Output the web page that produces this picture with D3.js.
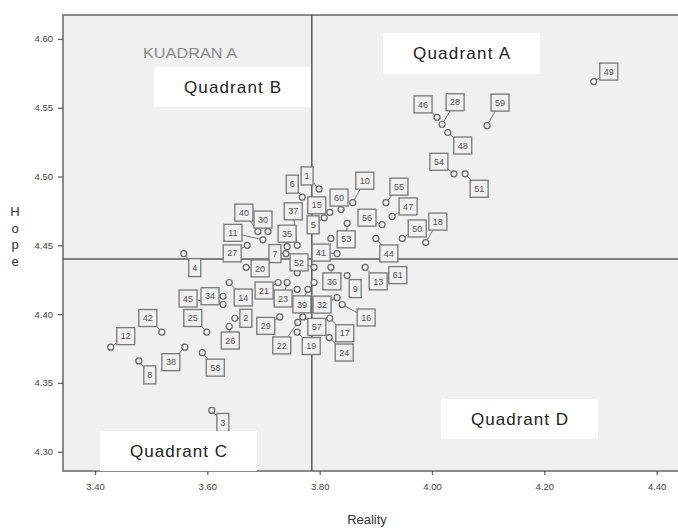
<!DOCTYPE html>
<html>
<head>
<meta charset="utf-8">
<script src="https://cdn.jsdelivr.net/npm/d3@7"></script>
<style>
  body { margin: 0; background: #fff; }
  text { font-family: "Liberation Sans", Arial, sans-serif; }
</style>
</head>
<body>
<div id="chart"></div>
<script>
// case labels ("" = point whose label is hidden in the picture)
const labels = ["49","46","28","48","59","54","51","1","15","60","5","10","53","","41","44","56","55","47","50","18",
  "6","40","30","11","27","35","37","7","4","20","14","34","45","2","26","25","42","12","8","38","58","3",
  "21","23","52","","","39","","29","57","22","19","36","9","13","61","32","16","17","24"];
const reality = [4.288,4.009,4.018,4.028,4.098,4.039,4.059,3.799,3.818,3.838,3.808,3.859,3.849,3.820,3.831,3.900,3.911,3.918,3.929,3.947,3.989,
  3.769,3.690,3.708,3.699,3.671,3.742,3.760,3.740,3.558,3.669,3.639,3.628,3.628,3.649,3.639,3.599,3.519,3.428,3.478,3.560,3.591,3.608,
  3.726,3.742,3.790,3.760,3.760,3.779,3.790,3.729,3.770,3.761,3.760,3.820,3.849,3.881,3.907,3.831,3.840,3.818,3.817];
const hope = [4.569,4.543,4.538,4.532,4.537,4.502,4.502,4.491,4.474,4.476,4.470,4.481,4.466,4.455,4.444,4.455,4.465,4.481,4.471,4.455,4.452,
  4.485,4.460,4.460,4.454,4.450,4.449,4.450,4.444,4.444,4.434,4.423,4.413,4.407,4.397,4.391,4.387,4.387,4.376,4.366,4.376,4.372,4.330,
  4.423,4.423,4.434,4.430,4.418,4.418,4.423,4.398,4.398,4.394,4.387,4.434,4.428,4.434,4.424,4.412,4.407,4.397,4.383];

// where each label box sits relative to its point (pixels)
const labelDx = [15,-14,13,15,13,-15,14,-12,-13,-2,-11,12,-1,0,-16,13,-15,13,16,15,12,
  -10,-14,-5,-30,-15,0,-4,-11,11,14,14,-13,-35,11,1,-14,-14,15,11,-14,13,11,
  -14,-4,-15,0,0,-6,0,-14,14,-16,14,1,8,13,18,-15,24,15,15];
const labelDy = [-10,-13,-22,13,-23,-12,15,-13,-7,-12,7,-22,16,0,-1,15,-7,-16,-10,-10,-21,
  -13,-19,-12,-7,8,-13,-34,0,14,1,15,0,-6,0,14,-14,-14,-11,14,15,15,12,
  8,16,-5,0,0,15,0,9,10,23,14,14,13,14,-6,7,13,15,15];

const xTicks = [3.40, 3.60, 3.80, 4.00, 4.20, 4.40];
const yTicks = [4.30, 4.35, 4.40, 4.45, 4.50, 4.55, 4.60];
const meanReality = 3.786;
const meanHope = 4.440;

const quadrantBoxes = [
  { text: "Quadrant A", x: 383, y: 33, w: 157, h: 41 },
  { text: "Quadrant B", x: 154, y: 67, w: 157, h: 40 },
  { text: "Quadrant C", x: 100, y: 431, w: 157, h: 40 },
  { text: "Quadrant D", x: 441, y: 399, w: 157, h: 40 }
];

const width = 678, height = 531;
const plot = { left: 63, top: 15, right: 678, bottom: 471 };

const svg = d3.select("#chart").append("svg")
  .attr("width", width)
  .attr("height", height);

const x = d3.scaleLinear().domain([3.343, 4.438]).range([plot.left, plot.right]);
const y = d3.scaleLinear().domain([4.286, 4.6174]).range([plot.bottom, plot.top]);

svg.append("rect")
  .attr("x", plot.left).attr("y", plot.top)
  .attr("width", plot.right - plot.left + 2).attr("height", plot.bottom - plot.top)
  .attr("fill", "#f0f0f0")
  .attr("stroke", "#7e7e7e")
  .attr("stroke-width", 1.8);

// axes
const xAxis = svg.append("g")
  .attr("transform", `translate(0,${plot.bottom})`)
  .call(d3.axisBottom(x).tickValues(xTicks).tickFormat(d3.format(".2f")).tickSize(4).tickPadding(8));
const yAxis = svg.append("g")
  .attr("transform", `translate(${plot.left},0)`)
  .call(d3.axisLeft(y).tickValues(yTicks).tickFormat(d3.format(".2f")).tickSize(5).tickPadding(5));
[xAxis, yAxis].forEach(g => {
  g.select(".domain").remove();
  g.selectAll(".tick line").attr("stroke", "#666").attr("stroke-width", 1.3);
  g.selectAll(".tick text").attr("fill", "#444").attr("font-size", 9.5);
});

// mean lines
svg.append("line")
  .attr("x1", x(meanReality)).attr("x2", x(meanReality))
  .attr("y1", plot.top).attr("y2", plot.bottom)
  .attr("stroke", "#5a5a5a").attr("stroke-width", 1.5);
svg.append("line")
  .attr("x1", plot.left).attr("x2", plot.right)
  .attr("y1", y(meanHope)).attr("y2", y(meanHope))
  .attr("stroke", "#5a5a5a").attr("stroke-width", 1.5);

const points = labels.map((l, i) => ({
  label: l, cx: x(reality[i]), cy: y(hope[i]),
  bx: x(reality[i]) + labelDx[i], by: y(hope[i]) + labelDy[i]
}));
const labelled = points.filter(d => d.label !== "");

// leader lines
svg.append("g")
  .attr("stroke", "#777").attr("stroke-width", 1)
  .selectAll("line")
  .data(labelled)
  .join("line")
  .attr("x1", d => d.cx).attr("y1", d => d.cy)
  .attr("x2", d => d.bx).attr("y2", d => d.by);

// points
svg.append("g")
  .attr("fill", "#f0f0f0").attr("stroke", "#666").attr("stroke-width", 1.2)
  .selectAll("circle")
  .data(points)
  .join("circle")
  .attr("cx", d => d.cx).attr("cy", d => d.cy)
  .attr("r", 3);

// label boxes
const lab = svg.append("g")
  .selectAll("g")
  .data(labelled)
  .join("g")
  .attr("transform", d => `translate(${d.bx},${d.by})`);
lab.append("rect")
  .attr("x", d => d.label.length > 1 ? -9 : -6)
  .attr("y", d => d.label.length > 1 ? -8.5 : -9)
  .attr("width", d => d.label.length > 1 ? 18 : 12)
  .attr("height", d => d.label.length > 1 ? 17 : 18)
  .attr("fill", "#f0f0f0")
  .attr("stroke", "#777")
  .attr("stroke-width", 1.3);
lab.append("text")
  .attr("text-anchor", "middle")
  .attr("dy", "0.35em")
  .attr("font-size", 9)
  .attr("fill", "#555")
  .text(d => d.label);

// old annotation left in the chart
svg.append("text")
  .attr("x", 143).attr("y", 58)
  .attr("font-size", 14)
  .attr("fill", "#8a8a8a")
  .attr("textLength", 94)
  .attr("lengthAdjust", "spacingAndGlyphs")
  .text("KUADRAN A");

// quadrant captions
const q = svg.append("g").selectAll("g").data(quadrantBoxes).join("g");
q.append("rect")
  .attr("x", d => d.x).attr("y", d => d.y)
  .attr("width", d => d.w).attr("height", d => d.h)
  .attr("fill", "#fff");
q.append("text")
  .attr("x", d => d.x + d.w / 2).attr("y", d => d.y + d.h / 2)
  .attr("dy", "0.35em")
  .attr("text-anchor", "middle")
  .attr("font-family", "'Open Sans', 'Noto Sans', sans-serif")
  .attr("font-size", 17)
  .attr("textLength", 97)
  .attr("lengthAdjust", "spacing")
  .attr("fill", "#222")
  .text(d => d.text);

// axis titles
svg.append("text")
  .attr("x", 367).attr("y", 524)
  .attr("text-anchor", "middle")
  .attr("font-family", "'Open Sans', 'Noto Sans', sans-serif")
  .attr("font-size", 13)
  .attr("fill", "#333")
  .text("Reality");
svg.append("g")
  .selectAll("text")
  .data("Hope".split(""))
  .join("text")
  .attr("x", 15)
  .attr("y", (d, i) => 216 + i * 16.5)
  .attr("text-anchor", "middle")
  .attr("font-family", "'Open Sans', 'Noto Sans', sans-serif")
  .attr("font-size", 13)
  .attr("fill", "#333")
  .text(d => d);
</script>
</body>
</html>
